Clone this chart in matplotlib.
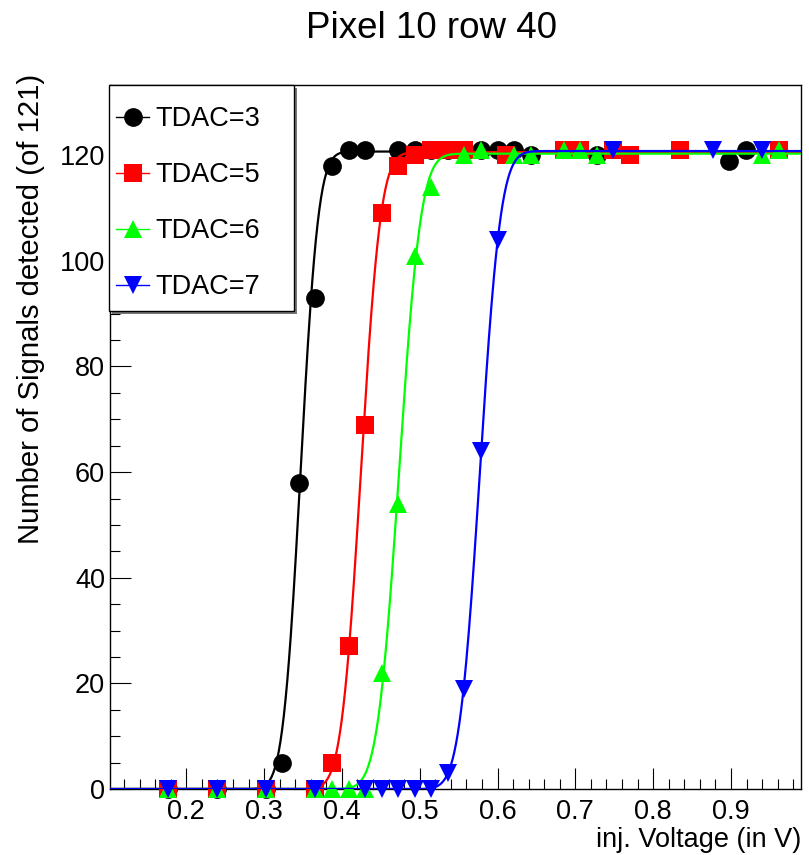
import math
import numpy as np
import matplotlib
matplotlib.use("Agg")
import matplotlib.pyplot as plt
from matplotlib.patches import Rectangle
from matplotlib.lines import Line2D
from matplotlib.ticker import MultipleLocator

plt.rcParams['font.family'] = ['Liberation Sans', 'DejaVu Sans']

# data (counts out of 121 per injection voltage)
v_t3 = [0.176, 0.239, 0.302, 0.323, 0.345, 0.366, 0.387, 0.409, 0.430, 0.472,
        0.494, 0.515, 0.536, 0.579, 0.600, 0.621, 0.643, 0.728, 0.898, 0.919]
n_t3 = [0, 0, 0, 5, 58, 93, 118, 121, 121, 121,
        121, 121, 121, 121, 121, 121, 120, 120, 119, 121]

v_t5 = [0.176, 0.239, 0.302, 0.366, 0.387, 0.409, 0.430, 0.451, 0.472, 0.494,
        0.515, 0.536, 0.557, 0.611, 0.685, 0.706, 0.749, 0.770, 0.834, 0.962]
n_t5 = [0, 0, 0, 0, 5, 27, 69, 109, 118, 120,
        121, 121, 121, 120, 121, 121, 121, 120, 121, 121]

v_t6 = [0.176, 0.239, 0.302, 0.366, 0.387, 0.409, 0.430, 0.451, 0.472, 0.494,
        0.515, 0.557, 0.579, 0.621, 0.643, 0.685, 0.706, 0.728, 0.940, 0.962]
n_t6 = [0, 0, 0, 0, 0, 0, 0, 22, 54, 101,
        114, 120, 121, 120, 120, 121, 121, 120, 120, 121]

v_t7 = [0.176, 0.239, 0.302, 0.366, 0.430, 0.451, 0.472, 0.494, 0.515, 0.536,
        0.557, 0.579, 0.600, 0.749, 0.877, 0.940]
n_t7 = [0, 0, 0, 0, 0, 0, 0, 0, 0, 3,
        19, 64, 104, 121, 121, 121]

labels = ["TDAC=3", "TDAC=5", "TDAC=6", "TDAC=7"]
colors = ["#000000", "#ff0000", "#00ff00", "#0000ff"]
markers = ["o", "s", "^", "v"]

# erf fit parameters (plateau, mean, sigma) estimated from the drawn curves
fit_amp = [120.7, 120.6, 120.3, 120.8]
fit_mu = [0.347, 0.4245, 0.4735, 0.5775]
fit_sigma = [0.018, 0.020, 0.022, 0.021]

xmin, xmax = 0.102, 0.99
erf = np.vectorize(math.erf)

fig = plt.figure(figsize=(8.09, 8.55), dpi=100)
ax = fig.add_axes([110 / 809, 1 - 789 / 855, 691 / 809, 704 / 855])

series = [(v_t3, n_t3), (v_t5, n_t5), (v_t6, n_t6), (v_t7, n_t7)]
xs = np.linspace(xmin, xmax, 800)
handles = []
for i, (v, n) in enumerate(series):
    ax.plot(v, n, linestyle="none", marker=markers[i], color=colors[i],
            markersize=13.5, markeredgewidth=0, zorder=3 + 2 * i, clip_on=False)
    f = fit_amp[i] * 0.5 * (1 + erf((xs - fit_mu[i]) / (math.sqrt(2) * fit_sigma[i])))
    ax.plot(xs, f, color=colors[i], linewidth=1.6, zorder=4 + 2 * i)
    handles.append(Line2D([], [], color=colors[i], linewidth=1.0, marker=markers[i],
                          markersize=13.5, markeredgewidth=0))

ax.set_xlim(xmin, xmax)
ax.set_ylim(0, 133.3)
ax.xaxis.set_major_locator(MultipleLocator(0.1))
ax.xaxis.set_minor_locator(MultipleLocator(0.02))
ax.yaxis.set_major_locator(MultipleLocator(20))
ax.yaxis.set_minor_locator(MultipleLocator(5))
ax.tick_params(which="both", direction="in", top=False, right=False, width=0.8)
ax.tick_params(which="major", length=15, labelsize=19.5)
ax.tick_params(which="minor", length=7.5)
ax.tick_params(axis="x", pad=7)
ax.tick_params(axis="y", pad=3.6)
for s in ax.spines.values():
    s.set_linewidth(1.0)

ax.set_xlabel("inj. Voltage (in V)", loc="right", fontsize=19.5, labelpad=1.5)
fig.text(31 / 809, 1 - 74 / 855, "Number of Signals detected (of 121)",
         rotation=90, ha="center", va="top", fontsize=21.1)
fig.text(431 / 809, 1 - 28 / 855, "Pixel 10 row 40", ha="center", va="center",
         fontsize=26.5)

# legend box with shadow, as in the ROOT canvas
bw, bh = 185 / 691, 226 / 704
ax.add_patch(Rectangle((-1 / 691 + 3 / 691, 1 - bh - 3 / 704), bw, bh,
                       transform=ax.transAxes, facecolor="#777777",
                       edgecolor="none", zorder=20, clip_on=False))
ax.add_patch(Rectangle((-1 / 691, 1 - bh), bw, bh, transform=ax.transAxes,
                       facecolor="white", edgecolor="black", linewidth=1.0,
                       zorder=21, clip_on=False))
leg = ax.legend(handles, labels, loc="upper left", bbox_to_anchor=(6 / 691, 1 - 21 / 704),
                frameon=False, fontsize=19.5, borderpad=0, borderaxespad=0,
                labelspacing=1.11, handlelength=1.22, handletextpad=0.22,
                numpoints=1)
leg.set_zorder(22)

fig.savefig("out.png", dpi=100)
